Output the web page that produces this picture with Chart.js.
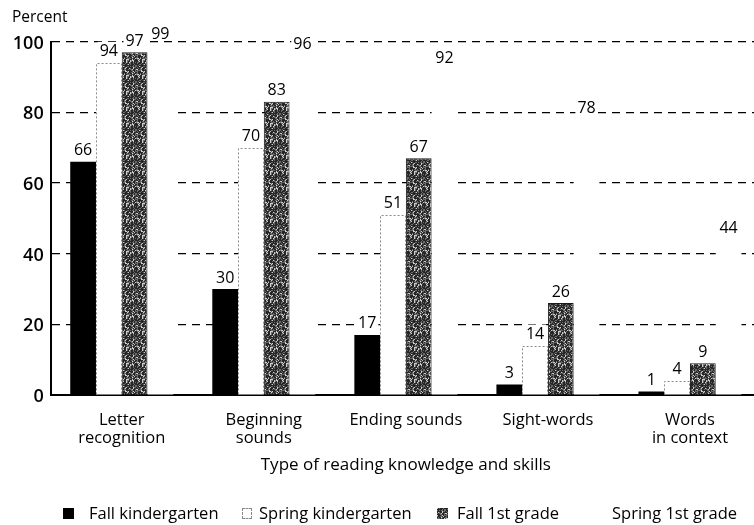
<!DOCTYPE html>
<html>
<head>
<meta charset="utf-8">
<script src="https://cdn.jsdelivr.net/npm/chart.js@4.4.1/dist/chart.umd.min.js"></script>
<style>
  body { margin: 0; background: #fff; }
  #wrap { position: relative; width: 754px; height: 525px; overflow: hidden; font-family: 'Open Sans', 'Noto Sans', sans-serif; }
  #chart { position: absolute; left: 0; top: 0; }
  .lg { position: absolute; top: 503px; height: 20px; line-height: 20px; font-size: 16.5px; color: #000; white-space: nowrap; }
  .bx { position: absolute; top: 508px; width: 11px; height: 11px; box-sizing: border-box; }
</style>
</head>
<body>
<div id="wrap">
  <canvas id="chart" width="764" height="525"></canvas>
  <div class="bx" style="left:63px;background:#000;"></div>
  <div class="lg" style="left:89px;">Fall kindergarten</div>
  <div class="bx" style="left:242px;border:1px dashed #888;background:#fff;width:10px;"></div>
  <div class="lg" style="left:259px;">Spring kindergarten</div>
  <div class="bx" id="box3" style="left:437px;"></div>
  <div class="lg" style="left:457px;">Fall 1st grade</div>
  <div class="lg" style="left:612px;">Spring 1st grade</div>
</div>
<script>
const categorias = [['Letter', 'recognition'], ['Beginning', 'sounds'], 'Ending sounds', 'Sight-words', ['Words', 'in context']];
const otonoKinder = [66, 30, 17, 3, 1];
const primaveraKinder = [94, 70, 51, 14, 4];
const otonoPrimero = [97, 83, 67, 26, 9];
const primaveraPrimero = [99, 96, 92, 78, 44];
const seriesNombres = ['Fall kindergarten', 'Spring kindergarten', 'Fall 1st grade', 'Spring 1st grade'];
const ticksY = [0, 20, 40, 60, 80, 100];

const FONT = "'Open Sans', 'Noto Sans', sans-serif";

// textura moteada para las barras de 1er grado (determinista)
function crearTextura() {
    const c = document.createElement('canvas');
    c.width = 16; c.height = 16;
    const g = c.getContext('2d');
    for (let y = 0; y < 16; y++) {
        for (let x = 0; x < 16; x++) {
            let h = (x * 374761393 + y * 668265263) | 0;
            h = Math.imul(h ^ (h >>> 13), 1274126177);
            const v = ((h ^ (h >>> 16)) >>> 0) % 100;
            g.fillStyle = v < 15 ? '#cfcfcf' : (v < 40 ? '#6a6a6a' : '#262626');
            g.fillRect(x, y, 1, 1);
        }
    }
    return c;
}
const texturaCanvas = crearTextura();
const ctx = document.getElementById('chart').getContext('2d');
const textura = ctx.createPattern(texturaCanvas, 'repeat');
document.getElementById('box3').style.background = `url(${texturaCanvas.toDataURL()})`;

// contorno punteado + etiquetas de valores
const decoracion = {
    id: 'decoracion',
    afterDatasetsDraw(chart) {
        const c = chart.ctx;
        c.save();
        c.strokeStyle = '#8a8a8a';
        c.lineWidth = 1;
        c.setLineDash([2, 2]);
        chart.getDatasetMeta(1).data.forEach(bar => {
            const l = Math.round(bar.x - bar.width / 2) + 0.5;
            const r = Math.round(bar.x + bar.width / 2) - 0.5;
            const t = Math.round(bar.y) + 0.5;
            const b = bar.base;
            c.beginPath();
            c.moveTo(l, b); c.lineTo(l, t); c.lineTo(r, t); c.lineTo(r, b);
            c.stroke();
        });
        c.setLineDash([]);
        c.font = `16px ${FONT}`;
        c.textAlign = 'center';
        c.textBaseline = 'bottom';
        const etiquetas = [];
        chart.data.datasets.forEach((ds, i) => {
            chart.getDatasetMeta(i).data.forEach((bar, j) => {
                etiquetas.push({ txt: String(ds.data[j]), x: bar.x, y: bar.y - 3 });
            });
        });
        // fondo blanco detrás de cada etiqueta
        c.fillStyle = '#fff';
        etiquetas.forEach(e => {
            const w = c.measureText(e.txt).width + 4;
            c.fillRect(e.x - w / 2, e.y - 18, w, 16);
        });
        c.fillStyle = '#000';
        etiquetas.forEach(e => c.fillText(e.txt, e.x, e.y));
        c.restore();
    }
};

new Chart(ctx, {
    type: 'bar',
    data: {
        labels: categorias,
        datasets: [
            { label: seriesNombres[0], data: otonoKinder, backgroundColor: '#000', borderWidth: 0 },
            { label: seriesNombres[1], data: primaveraKinder, backgroundColor: '#fff', borderWidth: 0 },
            { label: seriesNombres[2], data: otonoPrimero, backgroundColor: textura, borderColor: '#1a1a1a', borderWidth: 1 },
            { label: seriesNombres[3], data: primaveraPrimero, backgroundColor: '#fff', borderWidth: 0 }
        ]
    },
    options: {
        responsive: false,
        animation: false,
        categoryPercentage: 0.725,
        barPercentage: 1,
        layout: { padding: { left: 12, right: 3, top: 0, bottom: 50 } },
        plugins: {
            legend: { display: false },
            tooltip: { enabled: false },
            title: {
                display: true,
                text: 'Percent',
                align: 'start',
                color: '#000',
                font: { family: FONT, size: 15.5, weight: 'normal' },
                padding: { top: 8, bottom: 15 }
            }
        },
        scales: {
            x: {
                grid: { display: false, drawTicks: false },
                border: { display: true, color: '#000', width: 2 },
                ticks: {
                    color: '#000',
                    font: { family: FONT, size: 16.5, lineHeight: 1.1 },
                    padding: 16,
                    maxRotation: 0,
                    autoSkip: false
                },
                title: {
                    display: true,
                    text: 'Type of reading knowledge and skills',
                    color: '#000',
                    font: { family: FONT, size: 17, lineHeight: 1.2 },
                    padding: 0
                },
                afterFit(scale) { scale.height = 80; }
            },
            y: {
                min: 0,
                max: 100,
                afterBuildTicks(scale) { scale.ticks = ticksY.map(v => ({ value: v })); },
                grid: { color: '#000', lineWidth: 1.2, drawTicks: false },
                border: { display: true, color: '#000', width: 2, dash: [8, 6] },
                ticks: {
                    color: '#000',
                    font: { family: FONT, size: 18, weight: '600' },
                    padding: 7,
                    labelOffset: 2
                },
                afterFit(scale) { scale.width = 38.7; }
            }
        }
    },
    plugins: [decoracion]
});
</script>
</body>
</html>
